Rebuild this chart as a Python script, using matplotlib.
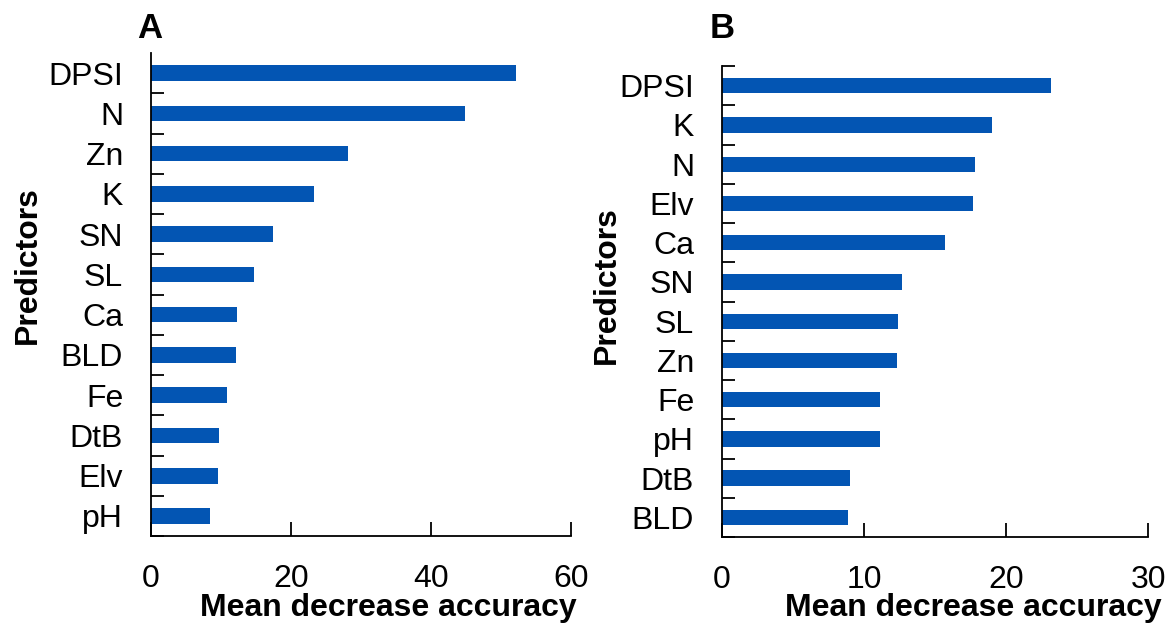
import numpy as np
import matplotlib
matplotlib.use("Agg")
from matplotlib import pyplot as plt

plt.rcParams['font.family'] = ['Liberation Sans', 'DejaVu Sans']

# Panel A: predictor importance, top to bottom
labels_a = ["DPSI", "N", "Zn", "K", "SN", "SL", "Ca", "BLD", "Fe", "DtB", "Elv", "pH"]
values_a = [52.1, 44.8, 28.2, 23.3, 17.4, 14.7, 12.3, 12.1, 10.8, 9.7, 9.6, 8.4]

# Panel B
labels_b = ["DPSI", "K", "N", "Elv", "Ca", "SN", "SL", "Zn", "Fe", "pH", "DtB", "BLD"]
values_b = [23.2, 19.0, 17.8, 17.7, 15.7, 12.7, 12.4, 12.3, 11.1, 11.1, 9.0, 8.9]

bar_color = "#0355B3"


def importance_panel(ax, labels, values, xmax, xstep, top_tick):
    n = len(labels)
    y = np.arange(n)[::-1]
    ax.barh(y, values, height=0.39, color=bar_color)

    ax.set_xlim(0, xmax)
    ax.set_ylim(-0.5, n - 0.5)
    ax.set_xticks(np.arange(0, xmax + 1, xstep))
    ax.set_yticks(y)
    ax.set_yticklabels(labels)

    bounds = np.arange(n) - 0.5
    if top_tick:
        bounds = np.append(bounds, n - 0.5)
    ax.set_yticks(bounds, minor=True)

    ax.tick_params(axis="y", which="major", length=0, pad=20, labelsize=23)
    ax.tick_params(axis="y", which="minor", direction="in", length=9, width=1.3)
    ax.tick_params(axis="x", direction="in", length=10, width=1.3, pad=20, labelsize=23)

    for side in ["top", "right"]:
        ax.spines[side].set_visible(False)
    for side in ["left", "bottom"]:
        ax.spines[side].set_linewidth(1.3)


fig = plt.figure(figsize=(11.66, 6.23), dpi=100)

ax1 = fig.add_axes([0.1295, 0.1396, 0.3602, 0.7753])
importance_panel(ax1, labels_a, values_a, 60, 20, top_tick=False)

ax2 = fig.add_axes([0.6192, 0.1380, 0.3654, 0.7560])
importance_panel(ax2, labels_b, values_b, 30, 10, top_tick=True)

# axis titles and panel letters
fig.text(577 / 1166, 1 - 608 / 623, "Mean decrease accuracy", ha="right", va="center",
         fontsize=23, fontweight="bold")
fig.text(1162 / 1166, 1 - 608 / 623, "Mean decrease accuracy", ha="right", va="center",
         fontsize=23, fontweight="bold")
fig.text(28 / 1166, 1 - 265 / 623, "Predictors", ha="center", va="center",
         rotation=90, fontsize=23, fontweight="bold")
fig.text(607 / 1166, 1 - 285 / 623, "Predictors", ha="center", va="center",
         rotation=90, fontsize=23, fontweight="bold")
fig.text(150 / 1166, 1 - 28 / 623, "A", ha="center", va="center",
         fontsize=25, fontweight="bold")
fig.text(722 / 1166, 1 - 28 / 623, "B", ha="center", va="center",
         fontsize=25, fontweight="bold")

fig.savefig("out.png", dpi=100)
